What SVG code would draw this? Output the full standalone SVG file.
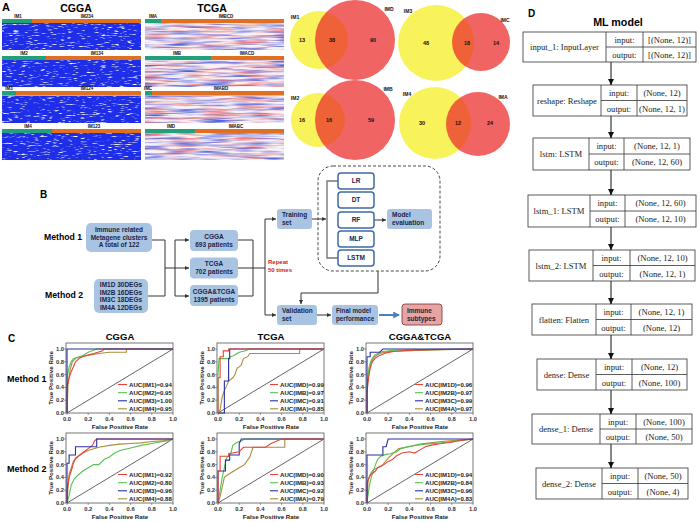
<svg xmlns="http://www.w3.org/2000/svg" xmlns:xlink="http://www.w3.org/1999/xlink" width="700" height="522" viewBox="0 0 700 522">
<style>
.t{font-family:"Liberation Sans",Arial,sans-serif;font-weight:bold}
.s{font-family:"Liberation Serif","Times New Roman",serif;font-size:8.6px;fill:#222}
.fb{fill:#a9c4e3}
.ft{font-size:6.5px;fill:#1c2541}
.ft2{font-size:6.3px;fill:#1c2541}
.ln{stroke:#333;stroke-width:1;fill:none}
.mb{fill:#fff;stroke:#3e6aa8;stroke-width:1.5}
.db{fill:#fff;stroke:#333;stroke-width:0.8}
.ax{fill:none;stroke:#555;stroke-width:0.8}
.tk{font-size:5.8px;fill:#333}
.cr{fill:none;stroke-width:1.1;vector-effect:non-scaling-stroke}
.r{stroke:#e8423a}.g{stroke:#58c04f}.b{stroke:#2b2f9e}.o{stroke:#a88f3a}
.lg{font-size:6.1px;fill:#222}
.hl{font-size:4.5px;fill:#111}
.vn{font-size:5.5px;fill:#111}
.vl{font-size:5px;fill:#111}
.yel{fill:#f8f35a}
.red{fill:#ec2828;fill-opacity:0.72}
.gb{fill:#22a07a}.ob{fill:#e0701f}
</style>
<defs>
<filter id="hmC" x="0" y="0" width="1" height="1" color-interpolation-filters="sRGB">
<feTurbulence type="fractalNoise" baseFrequency="0.15 0.9" numOctaves="2" seed="2" result="n"/>
<feColorMatrix in="n" type="matrix" values="0 0 0 0 1 0 0 0 0 1 0 0 0 0 1 4 0 0 0 -2.3" result="w"/>
<feComposite in="w" in2="SourceGraphic" operator="over" result="c"/>
<feComposite in="c" in2="SourceAlpha" operator="in"/>
</filter>
<filter id="hmT" x="0" y="0" width="1" height="1" color-interpolation-filters="sRGB">
<feTurbulence type="fractalNoise" baseFrequency="0.03 0.45" numOctaves="2" seed="7" result="n"/>
<feColorMatrix in="n" type="matrix" values="0 0 0 0 0.3 0 0 0 0 0.38 0 0 0 0 0.88 2.6 0 0 0 -1.15" result="bl"/>
<feColorMatrix in="n" type="matrix" values="0 0 0 0 0.95 0 0 0 0 0.5 0 0 0 0 0.5 0 2.6 0 0 -1.15" result="rd"/>
<feMerge result="m"><feMergeNode in="SourceGraphic"/><feMergeNode in="rd"/><feMergeNode in="bl"/></feMerge>
<feComposite in="m" in2="SourceAlpha" operator="in"/>
</filter>
<marker id="ah" viewBox="0 0 6 6" refX="6" refY="3" markerWidth="4.5" markerHeight="4.5" orient="auto" markerUnits="userSpaceOnUse"><path d="M0,0 L6,3 L0,6 z" fill="#333"/></marker>
<marker id="ahd" viewBox="0 0 6 6" refX="6" refY="3" markerWidth="6" markerHeight="6" orient="auto" markerUnits="userSpaceOnUse"><path d="M0,0 L6,3 L0,6 z" fill="#111"/></marker>
<marker id="ahb" viewBox="0 0 6 6" refX="5" refY="3" markerWidth="7" markerHeight="7" orient="auto" markerUnits="userSpaceOnUse"><path d="M0,0 L6,3 L0,6 z" fill="#4a7fc1"/></marker>
<g id="roc-axes">
<rect class="ax" x="-1" y="-70" width="107" height="70"/>
<path d="M0,0v2M21.2,0v2M42.4,0v2M63.6,0v2M84.8,0v2M106,0v2M-1,0h-2M-1,-12.8h-2M-1,-25.6h-2M-1,-38.4h-2M-1,-51.2h-2M-1,-64h-2" stroke="#555" stroke-width="0.6"/>
<line x1="0" y1="0" x2="106" y2="-64" stroke="#222" stroke-width="0.7"/>
<g class="t tk" text-anchor="end"><text x="-3" y="2">0.0</text><text x="-3" y="-10.8">0.2</text><text x="-3" y="-23.6">0.4</text><text x="-3" y="-36.4">0.6</text><text x="-3" y="-49.2">0.8</text><text x="-3" y="-62">1.0</text></g>
<g class="t tk" text-anchor="middle"><text x="0" y="8">0.0</text><text x="21.2" y="8">0.2</text><text x="42.4" y="8">0.4</text><text x="63.6" y="8">0.6</text><text x="84.8" y="8">0.8</text><text x="106" y="8">1.0</text></g>
<text class="t" x="53" y="15.6" text-anchor="middle" font-size="6.2" fill="#222">False Positive Rate</text>
<text class="t" transform="translate(-14.5,-35) rotate(-90)" text-anchor="middle" font-size="6.2" fill="#222">True Positive Rate</text>
</g>
</defs>
<rect width="700" height="522" fill="#fff"/>

<!-- Panel A -->
<g id="panel-A">
<text class="t" x="2" y="11" font-size="11">A</text>
<text class="t" x="76" y="12" font-size="10.5" text-anchor="middle">CGGA</text>
<text class="t" x="212" y="12" font-size="10.5" text-anchor="middle">TCGA</text>
<g id="heat-cgga">
<g fill="#1e2ee8" filter="url(#hmC)">
<rect x="2" y="23" width="139" height="27"/>
<rect x="2" y="60" width="139" height="27"/>
<rect x="2" y="95.5" width="139" height="27.5"/>
<rect x="2" y="133" width="139" height="27"/>
</g>
<rect class="gb" x="2" y="19" width="30" height="4"/><rect class="ob" x="32" y="19" width="109" height="4"/>
<rect class="gb" x="2" y="56" width="44" height="4"/><rect class="ob" x="46" y="56" width="95" height="4"/>
<rect class="gb" x="2" y="91" width="14" height="4.5"/><rect class="ob" x="16" y="91" width="125" height="4.5"/>
<rect class="gb" x="2" y="129" width="50" height="4"/><rect class="ob" x="52" y="129" width="89" height="4"/>
<g class="t hl" text-anchor="middle">
<text x="18" y="18.3">IM1</text><text x="87" y="18.3">IM234</text>
<text x="24" y="55.3">IM2</text><text x="97" y="55.3">IM134</text>
<text x="9" y="90.3">IM3</text><text x="87" y="90.3">IM124</text>
<text x="28" y="128.3">IM4</text><text x="94" y="128.3">IM123</text>
</g>
</g>
<g id="heat-tcga">
<g fill="#f7f0f4" filter="url(#hmT)">
<rect x="145" y="23" width="139" height="27"/>
<rect x="145" y="60" width="139" height="27"/>
<rect x="145" y="95.5" width="139" height="27.5"/>
<rect x="145" y="133" width="139" height="27"/>
</g>
<rect class="gb" x="145" y="19" width="16" height="4"/><rect class="ob" x="161" y="19" width="123" height="4"/>
<rect class="gb" x="145" y="56" width="66" height="4"/><rect class="ob" x="211" y="56" width="73" height="4"/>
<rect class="gb" x="145" y="91" width="7" height="4.5"/><rect class="ob" x="152" y="91" width="132" height="4.5"/>
<rect class="gb" x="145" y="129" width="50" height="4"/><rect class="ob" x="195" y="129" width="89" height="4"/>
<g class="t hl" text-anchor="middle">
<text x="153" y="18.3">IMA</text><text x="226" y="18.3">IMBCD</text>
<text x="177" y="55.3">IMB</text><text x="247" y="55.3">IMACD</text>
<text x="148" y="90.3">IMC</text><text x="221" y="90.3">IMABD</text>
<text x="171" y="128.3">IMD</text><text x="236" y="128.3">IMABC</text>
</g>
</g>
<g id="venn-1">
<circle class="yel" cx="319" cy="40" r="29"/><circle class="red" cx="355" cy="40" r="40"/>
<g class="t vl" text-anchor="middle"><text x="295" y="18.5">IM1</text><text x="389" y="11">IMD</text></g>
<g class="t vn" text-anchor="middle"><text x="302" y="42">13</text><text x="332" y="42">38</text><text x="373" y="42">90</text></g>
</g>
<g id="venn-2">
<circle class="yel" cx="436" cy="43" r="38"/><circle class="red" cx="481" cy="42" r="29"/>
<g class="t vl" text-anchor="middle"><text x="408" y="12.5">IM3</text><text x="505" y="22">IMC</text></g>
<g class="t vn" text-anchor="middle"><text x="426" y="45">48</text><text x="467" y="45">18</text><text x="496" y="45">14</text></g>
</g>
<g id="venn-3">
<circle class="yel" cx="318" cy="120" r="27"/><circle class="red" cx="355" cy="120" r="40"/>
<g class="t vl" text-anchor="middle"><text x="295" y="100">IM2</text><text x="388" y="91">IMB</text></g>
<g class="t vn" text-anchor="middle"><text x="302" y="122">16</text><text x="329" y="122">16</text><text x="371" y="122">59</text></g>
</g>
<g id="venn-4">
<circle class="yel" cx="435" cy="123" r="36"/><circle class="red" cx="478" cy="124" r="32"/>
<g class="t vl" text-anchor="middle"><text x="407" y="96">IM4</text><text x="503" y="99">IMA</text></g>
<g class="t vn" text-anchor="middle"><text x="422" y="125">30</text><text x="458" y="125">12</text><text x="490" y="125">24</text></g>
</g>
</g>

<!-- Panel B -->
<g id="panel-B">
<text class="t" x="40" y="198" font-size="10">B</text>
<text class="t" x="63" y="240" font-size="8.7" text-anchor="middle">Method 1</text>
<text class="t" x="64" y="298" font-size="8.7" text-anchor="middle">Method 2</text>
<g id="dashed-box"><rect x="318" y="166" width="122" height="105" rx="15" fill="none" stroke="#333" stroke-width="0.9" stroke-dasharray="3 2"/></g>
<g id="connectors">
<path class="ln" d="M152,240H165M148,296H165M165,240V296"/>
<path class="ln" d="M165,268H189" marker-end="url(#ah)"/>
<path class="ln" d="M175,268V240H189" marker-end="url(#ah)"/>
<path class="ln" d="M175,268V296H189" marker-end="url(#ah)"/>
<path class="ln" d="M238,240H253V296H238M238,268H265"/>
<path class="ln" d="M265,268V219H276" marker-end="url(#ah)"/>
<path class="ln" d="M265,268V315H276" marker-end="url(#ah)"/>
<path class="ln" d="M312,219H326" marker-end="url(#ah)"/>
<path d="M338,181H327V258H338" fill="none" stroke="#777" stroke-width="1.4"/>
<path class="ln" d="M374,220H386" marker-end="url(#ah)"/>
<path class="ln" d="M378,271V293H301V304" marker-end="url(#ah)"/>
<path class="ln" d="M317,315H331" marker-end="url(#ah)"/>
<path d="M379,315H399" fill="none" stroke="#4a7fc1" stroke-width="2" marker-end="url(#ahb)"/>
</g>
<g id="n-metagene"><rect class="fb" x="86" y="223" width="66" height="29" rx="5"/>
<g class="t ft" text-anchor="middle"><text x="119" y="232.2">Immune related</text><text x="119" y="239.7">Metagene clusters</text><text x="119" y="247.2">A total of 122</text></g></g>
<g id="n-degs"><rect class="fb" x="94" y="279" width="54" height="34" rx="5"/>
<g class="t ft" text-anchor="middle"><text x="121" y="287.3">IM1D 30DEGs</text><text x="121" y="294.8">IM2B 16DEGs</text><text x="121" y="302.3">IM3C 18DEGs</text><text x="121" y="309.8">IM4A 12DEGs</text></g></g>
<g id="n-cgga"><rect class="fb" x="190" y="230" width="48" height="21" rx="4"/>
<g class="t ft" text-anchor="middle"><text x="214" y="238.8">CGGA</text><text x="214" y="246.8">693 patients</text></g></g>
<g id="n-tcga"><rect class="fb" x="190" y="257.5" width="48" height="21" rx="4"/>
<g class="t ft" text-anchor="middle"><text x="214" y="266.2">TCGA</text><text x="214" y="274.2">702 patients</text></g></g>
<g id="n-both"><rect class="fb" x="190" y="285" width="48" height="21" rx="4"/>
<g class="t ft" text-anchor="middle"><text x="214" y="293.7">CGGA&amp;TCGA</text><text x="214" y="301.7">1395 patients</text></g></g>
<g id="repeat-label" class="t" font-size="6" fill="#c0272d"><text x="268" y="264">Repeat</text><text x="268" y="271.5">50 times</text></g>
<g id="n-training"><rect class="fb" x="277" y="209" width="35" height="20" rx="3"/>
<g class="t ft"><text x="282" y="217">Training</text><text x="282" y="225">set</text></g></g>
<g id="n-lr"><rect class="mb" x="338" y="173" width="36" height="16" rx="3"/><text class="t ft" x="356" y="183.3" text-anchor="middle">LR</text></g>
<g id="n-dt"><rect class="mb" x="338" y="192" width="36" height="16" rx="3"/><text class="t ft" x="356" y="202.3" text-anchor="middle">DT</text></g>
<g id="n-rf"><rect class="mb" x="338" y="212" width="36" height="16" rx="3"/><text class="t ft" x="356" y="222.3" text-anchor="middle">RF</text></g>
<g id="n-mlp"><rect class="mb" x="338" y="231" width="36" height="16" rx="3"/><text class="t ft" x="356" y="241.3" text-anchor="middle">MLP</text></g>
<g id="n-lstm"><rect class="mb" x="338" y="250" width="36" height="16" rx="3"/><text class="t ft" x="356" y="260.3" text-anchor="middle">LSTM</text></g>
<g id="n-eval"><rect class="fb" x="387" y="209" width="45" height="20" rx="3"/>
<g class="t ft"><text x="392" y="217">Model</text><text x="392" y="225">evaluation</text></g></g>
<g id="n-validation"><rect class="fb" x="277" y="305" width="40" height="20" rx="3"/>
<g class="t ft"><text x="282" y="313">Validation</text><text x="282" y="321">set</text></g></g>
<g id="n-final"><rect class="fb" x="332" y="305" width="46" height="20" rx="3"/>
<g class="t ft2"><text x="336" y="313">Final model</text><text x="336" y="321">performance</text></g></g>
<g id="n-immune"><rect x="402" y="304" width="40" height="21" rx="3" fill="#e8a3a3" stroke="#7a2f2f" stroke-width="0.8"/>
<g class="t ft"><text x="407" y="312.5">Immune</text><text x="407" y="320.5">subtypes</text></g></g>
</g>

<!-- Panel C -->
<g id="panel-C">
<text class="t" x="8" y="342" font-size="10">C</text>
<g class="t" font-size="9.5" text-anchor="middle"><text x="120" y="340">CGGA</text><text x="271" y="340">TCGA</text><text x="420" y="340">CGGA&amp;TCGA</text></g>
<g class="t" font-size="9"><text x="7" y="382">Method 1</text><text x="7" y="472">Method 2</text></g>

<g id="roc-cgga-m1" transform="translate(67,413)">
<use href="#roc-axes" xlink:href="#roc-axes"/>
<g transform="scale(106,-64)">
<polyline class="cr o" points="0,0 0.01,0.45 0.03,0.68 0.05,0.8 0.08,0.85 0.12,0.88 0.2,0.9 0.3,0.93 0.4,0.95 0.56,0.95 0.56,1 1,1"/>
<polyline class="cr g" points="0,0 0,0.55 0.02,0.72 0.04,0.8 0.06,0.85 0.1,0.87 0.15,0.9 0.2,0.95 0.28,1 1,1"/>
<polyline class="cr r" points="0,0 0,0.42 0.02,0.55 0.04,0.65 0.06,0.72 0.08,0.8 0.1,0.83 0.12,0.86 0.18,0.9 0.25,0.93 0.33,0.97 0.35,1 1,1"/>
<polyline class="cr b" points="0,0 0,1 1,1"/>
</g>
<path class="cr r" d="M51,-28.5h9"/><path class="cr g" d="M51,-20.3h9"/><path class="cr b" d="M51,-12.2h9"/><path class="cr o" d="M51,-4.2h9"/>
<g class="t lg"><text x="62" y="-26.4">AUC(IM1)=0.94</text><text x="62" y="-18.2">AUC(IM2)=0.95</text><text x="62" y="-10.1">AUC(IM3)=1.00</text><text x="62" y="-2.1">AUC(IM4)=0.95</text></g>
</g>

<g id="roc-cgga-m2" transform="translate(67,503)">
<use href="#roc-axes" xlink:href="#roc-axes"/>
<g transform="scale(106,-64)">
<polyline class="cr g" points="0,0 0.02,0.12 0.04,0.28 0.07,0.38 0.1,0.43 0.15,0.5 0.2,0.55 0.25,0.6 0.3,0.6 0.35,0.68 0.4,0.72 0.45,0.78 0.5,0.82 0.6,0.86 0.7,0.9 0.8,0.93 0.9,0.96 0.95,0.97 1,1"/>
<polyline class="cr o" points="0,0 0.01,0.25 0.02,0.45 0.04,0.55 0.06,0.65 0.1,0.72 0.15,0.78 0.2,0.82 0.3,0.87 0.4,0.9 0.5,0.92 0.6,0.93 0.7,0.94 0.8,0.96 0.9,0.97 1,1"/>
<polyline class="cr r" points="0,0 0,0.2 0.02,0.4 0.04,0.5 0.06,0.62 0.08,0.7 0.12,0.75 0.16,0.8 0.2,0.85 0.24,0.9 0.26,0.97 0.28,1 1,1"/>
<polyline class="cr b" points="0,0 0,0.62 0.02,0.62 0.02,0.75 0.08,0.75 0.08,0.88 0.28,0.88 0.28,1 1,1"/>
</g>
<path class="cr r" d="M51,-28.5h9"/><path class="cr g" d="M51,-20.3h9"/><path class="cr b" d="M51,-12.2h9"/><path class="cr o" d="M51,-4.2h9"/>
<g class="t lg"><text x="62" y="-26.4">AUC(IM1)=0.92</text><text x="62" y="-18.2">AUC(IM2)=0.80</text><text x="62" y="-10.1">AUC(IM3)=0.96</text><text x="62" y="-2.1">AUC(IM4)=0.88</text></g>
</g>

<g id="roc-tcga-m1" transform="translate(218,413)">
<use href="#roc-axes" xlink:href="#roc-axes"/>
<g transform="scale(106,-64)">
<polyline class="cr o" points="0,0 0.02,0.05 0.04,0.25 0.06,0.35 0.08,0.42 0.1,0.5 0.14,0.55 0.16,0.6 0.18,0.7 0.2,0.72 0.22,0.75 0.24,0.85 0.28,0.88 0.3,0.93 0.77,0.93 0.77,1 1,1"/>
<polyline class="cr g" points="0,0 0,0.6 0.01,0.85 0.1,0.85 0.12,0.88 0.15,0.9 0.2,0.95 0.25,0.97 0.3,1 1,1"/>
<polyline class="cr b" points="0,0 0.06,0 0.06,0.5 0.1,0.5 0.1,0.85 0.11,0.85 0.11,1 1,1"/>
<polyline class="cr r" points="0,0 0,0.55 0.02,0.55 0.02,0.88 0.05,0.88 0.05,0.97 0.1,0.97 0.1,1 1,1"/>
</g>
<path class="cr r" d="M52,-28.5h8"/><path class="cr g" d="M52,-20.3h8"/><path class="cr b" d="M52,-12.2h8"/><path class="cr o" d="M52,-4.2h8"/>
<g class="t lg"><text x="62" y="-26.4">AUC(IMD)=0.99</text><text x="62" y="-18.2">AUC(IMB)=0.97</text><text x="62" y="-10.1">AUC(IMC)=0.91</text><text x="62" y="-2.1">AUC(IMA)=0.85</text></g>
</g>

<g id="roc-tcga-m2" transform="translate(218,503)">
<use href="#roc-axes" xlink:href="#roc-axes"/>
<g transform="scale(106,-64)">
<polyline class="cr o" points="0,0 0.02,0.1 0.04,0.25 0.06,0.4 0.1,0.45 0.15,0.5 0.2,0.55 0.25,0.6 0.3,0.72 0.33,0.87 0.63,0.87 0.63,1 1,1"/>
<polyline class="cr g" points="0,0 0.02,0.2 0.04,0.4 0.06,0.55 0.08,0.7 0.12,0.77 0.14,0.9 0.18,0.95 0.22,0.97 0.25,1 1,1"/>
<polyline class="cr b" points="0,0 0,0.5 0.07,0.5 0.07,0.67 0.11,0.67 0.11,0.75 0.2,0.75 0.2,0.93 0.22,1 0.33,1 1,1"/>
<polyline class="cr r" points="0,0 0,0.5 0.02,0.5 0.02,0.73 0.1,0.73 0.1,0.77 0.2,0.8 0.24,0.87 0.45,0.87 0.5,0.93 0.6,1 1,1"/>
</g>
<path class="cr r" d="M52,-28.5h8"/><path class="cr g" d="M52,-20.3h8"/><path class="cr b" d="M52,-12.2h8"/><path class="cr o" d="M52,-4.2h8"/>
<g class="t lg"><text x="62" y="-26.4">AUC(IMD)=0.90</text><text x="62" y="-18.2">AUC(IMB)=0.93</text><text x="62" y="-10.1">AUC(IMC)=0.92</text><text x="62" y="-2.1">AUC(IMA)=0.79</text></g>
</g>

<g id="roc-both-m1" transform="translate(367,413)">
<use href="#roc-axes" xlink:href="#roc-axes"/>
<g transform="scale(106,-64)">
<polyline class="cr o" points="0,0 0,0.35 0.02,0.65 0.04,0.8 0.07,0.88 0.12,0.93 0.2,0.96 0.35,0.97 0.55,0.98 1,1"/>
<polyline class="cr g" points="0,0 0,0.45 0.02,0.72 0.04,0.83 0.07,0.9 0.1,0.93 0.15,0.96 0.25,0.98 0.5,0.99 1,1"/>
<polyline class="cr r" points="0,0 0,0.3 0.01,0.5 0.03,0.7 0.05,0.8 0.08,0.86 0.12,0.9 0.18,0.94 0.25,0.96 0.4,0.98 0.6,0.99 1,1"/>
<polyline class="cr b" points="0,0 0,0.88 0.03,0.88 0.03,0.95 0.12,0.95 0.15,1 1,1"/>
</g>
<path class="cr r" d="M48,-28.5h8"/><path class="cr g" d="M48,-20.3h8"/><path class="cr b" d="M48,-12.2h8"/><path class="cr o" d="M48,-4.2h8"/>
<g class="t lg"><text x="58" y="-26.4">AUC(IM1D)=0.96</text><text x="58" y="-18.2">AUC(IM2B)=0.97</text><text x="58" y="-10.1">AUC(IM3C)=0.99</text><text x="58" y="-2.1">AUC(IM4A)=0.97</text></g>
</g>

<g id="roc-both-m2" transform="translate(367,503)">
<use href="#roc-axes" xlink:href="#roc-axes"/>
<g transform="scale(106,-64)">
<polyline class="cr o" points="0,0 0.01,0.35 0.03,0.45 0.06,0.52 0.1,0.55 0.15,0.6 0.2,0.7 0.25,0.78 0.3,0.85 0.4,0.88 0.5,0.92 0.6,0.94 0.7,0.96 0.85,0.98 1,1"/>
<polyline class="cr g" points="0,0 0.02,0.25 0.04,0.4 0.06,0.5 0.08,0.6 0.1,0.68 0.13,0.73 0.18,0.76 0.22,0.77 0.28,0.8 0.32,0.85 0.38,0.88 0.45,0.9 0.55,0.92 0.7,0.94 0.85,0.97 1,1"/>
<polyline class="cr r" points="0,0 0,0.3 0.02,0.4 0.04,0.45 0.08,0.5 0.1,0.55 0.13,0.57 0.16,0.6 0.2,0.65 0.24,0.68 0.28,0.74 0.33,0.78 0.4,0.8 0.45,0.78 0.5,0.83 0.55,0.88 0.6,0.9 0.7,0.93 0.8,0.95 0.85,0.97 1,1"/>
<polyline class="cr b" points="0,0 0,0.75 0.15,0.75 0.15,0.88 0.18,0.88 0.2,1 1,1"/>
</g>
<path class="cr r" d="M48,-28.5h8"/><path class="cr g" d="M48,-20.3h8"/><path class="cr b" d="M48,-12.2h8"/><path class="cr o" d="M48,-4.2h8"/>
<g class="t lg"><text x="58" y="-26.4">AUC(IM1D)=0.94</text><text x="58" y="-18.2">AUC(IM2B)=0.84</text><text x="58" y="-10.1">AUC(IM3C)=0.96</text><text x="58" y="-2.1">AUC(IM4A)=0.83</text></g>
</g>
</g>

<!-- Panel D -->
<g id="panel-D">
<text class="t" x="528" y="17" font-size="10">D</text>
<text class="t" x="618" y="26" font-size="10.7" text-anchor="middle">ML model</text>
<g id="d-connectors">
<path d="M611,62V85M611,116V138M611,170V195M611,227V250M611,281V304M611,335V359M611,390V414M611,444V468" stroke="#111" stroke-width="1" fill="none"/>
<g stroke="#111" stroke-width="1" fill="none">
<path d="M611,80V85" marker-end="url(#ahd)"/><path d="M611,133V138" marker-end="url(#ahd)"/><path d="M611,190V195" marker-end="url(#ahd)"/><path d="M611,245V250" marker-end="url(#ahd)"/><path d="M611,299V304" marker-end="url(#ahd)"/><path d="M611,354V359" marker-end="url(#ahd)"/><path d="M611,409V414" marker-end="url(#ahd)"/><path d="M611,463V468" marker-end="url(#ahd)"/>
</g>
</g>
<g id="d-input1"><rect class="db" x="523" y="32" width="173" height="30"/><path class="db" d="M606,32V62M643,32V62M606,47H696"/>
<g class="s" text-anchor="middle"><text x="564.5" y="50">input_1: InputLayer</text><text x="624.5" y="42.5">input:</text><text x="624.5" y="57.5">output:</text><text x="669.5" y="42.5">[(None, 12)]</text><text x="669.5" y="57.5">[(None, 12)]</text></g></g>
<g id="d-reshape"><rect class="db" x="533" y="85" width="154" height="31"/><path class="db" d="M601,85V116M637,85V116M601,100.5H687"/>
<g class="s" text-anchor="middle"><text x="567" y="103.5">reshape: Reshape</text><text x="619" y="96">input:</text><text x="619" y="111.5">output:</text><text x="662" y="96">(None, 12)</text><text x="662" y="111.5">(None, 12, 1)</text></g></g>
<g id="d-lstm"><rect class="db" x="533" y="138" width="157" height="32"/><path class="db" d="M589,138V170M624,138V170M589,154H690"/>
<g class="s" text-anchor="middle"><text x="561" y="157">lstm: LSTM</text><text x="606.5" y="149">input:</text><text x="606.5" y="165">output:</text><text x="657" y="149">(None, 12, 1)</text><text x="657" y="165">(None, 12, 60)</text></g></g>
<g id="d-lstm1"><rect class="db" x="528" y="195" width="168" height="32"/><path class="db" d="M590,195V227M625,195V227M590,211H696"/>
<g class="s" text-anchor="middle"><text x="559" y="214">lstm_1: LSTM</text><text x="607.5" y="206">input:</text><text x="607.5" y="222">output:</text><text x="660.5" y="206">(None, 12, 60)</text><text x="660.5" y="222">(None, 12, 10)</text></g></g>
<g id="d-lstm2"><rect class="db" x="529" y="250" width="166" height="31"/><path class="db" d="M593,250V281M630,250V281M593,265.5H695"/>
<g class="s" text-anchor="middle"><text x="561" y="268.5">lstm_2: LSTM</text><text x="611.5" y="261">input:</text><text x="611.5" y="276.5">output:</text><text x="662.5" y="261">(None, 12, 10)</text><text x="662.5" y="276.5">(None, 12, 1)</text></g></g>
<g id="d-flatten"><rect class="db" x="532" y="304" width="160" height="31"/><path class="db" d="M596,304V335M631,304V335M596,319.5H692"/>
<g class="s" text-anchor="middle"><text x="564" y="322.5">flatten: Flatten</text><text x="613.5" y="315">input:</text><text x="613.5" y="330.5">output:</text><text x="661.5" y="315">(None, 12, 1)</text><text x="661.5" y="330.5">(None, 12)</text></g></g>
<g id="d-dense"><rect class="db" x="537" y="359" width="150" height="31"/><path class="db" d="M596,359V390M632,359V390M596,374.5H687"/>
<g class="s" text-anchor="middle"><text x="566.5" y="377.5">dense: Dense</text><text x="614" y="370">input:</text><text x="614" y="385.5">output:</text><text x="659.5" y="370">(None, 12)</text><text x="659.5" y="385.5">(None, 100)</text></g></g>
<g id="d-dense1"><rect class="db" x="532" y="414" width="160" height="30"/><path class="db" d="M600,414V444M636,414V444M600,429H692"/>
<g class="s" text-anchor="middle"><text x="566" y="432">dense_1: Dense</text><text x="618" y="424.5">input:</text><text x="618" y="439.5">output:</text><text x="664" y="424.5">(None, 100)</text><text x="664" y="439.5">(None, 50)</text></g></g>
<g id="d-dense2"><rect class="db" x="536" y="468" width="152" height="31"/><path class="db" d="M602,468V499M638,468V499M602,483.5H688"/>
<g class="s" text-anchor="middle"><text x="569" y="486.5">dense_2: Dense</text><text x="620" y="479">input:</text><text x="620" y="494.5">output:</text><text x="663" y="479">(None, 50)</text><text x="663" y="494.5">(None, 4)</text></g></g>
</g>
</svg>
